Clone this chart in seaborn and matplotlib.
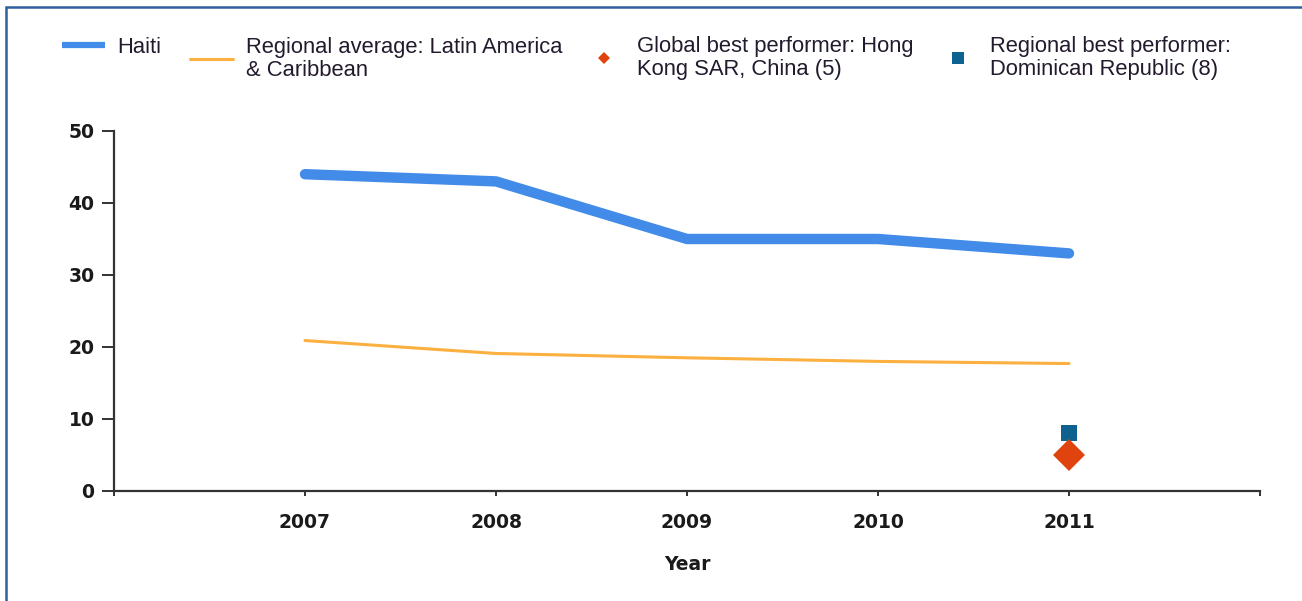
import matplotlib
matplotlib.use("Agg")
import matplotlib.pyplot as plt
import seaborn as sns
import pandas as pd
from matplotlib.patches import Rectangle

# ---- data ----
years = [2007, 2008, 2009, 2010, 2011]
haiti = [44, 43, 35, 35, 33]
regional_avg = [20.9, 19.1, 18.5, 18.0, 17.7]
best_year = [2011]
global_best = [5]
regional_best = [8]

series_labels = [
    "Haiti",
    "Regional average: Latin America\n& Caribbean",
    "Global best performer: Hong\nKong SAR, China (5)",
    "Regional best performer:\nDominican Republic (8)",
]
x_ticks = [2006, 2007, 2008, 2009, 2010, 2011, 2012]
x_ticklabels = ["", "2007", "2008", "2009", "2010", "2011", ""]
y_ticks = [0, 10, 20, 30, 40, 50]

# ---- colours ----
c_haiti = "#428be8"
c_region = "#fbb03f"
c_global = "#e0440e"
c_rbest = "#0d6290"
c_axis = "#333333"
c_text = "#231a2e"

sns.set_theme(style="white")
plt.rcParams["font.family"] = ["DejaVu Sans"]

W, H = 1302, 601
fig = plt.figure(figsize=(W / 100, H / 100), dpi=100)
ax = fig.add_axes([114 / W, 1 - 491 / H, (1260 - 114) / W, (491 - 131) / H])

df = pd.DataFrame({"year": years, "haiti": haiti, "regional": regional_avg})
sns.lineplot(data=df, x="year", y="regional", ax=ax, color=c_region,
             linewidth=2.2, label=series_labels[1])
sns.lineplot(data=df, x="year", y="haiti", ax=ax, color=c_haiti,
             linewidth=7.5, solid_capstyle="round", label=series_labels[0])
sns.lineplot(x=best_year, y=regional_best, ax=ax, color=c_rbest, marker="s",
             markersize=12, linestyle="", markeredgewidth=0, label=series_labels[3])
sns.lineplot(x=best_year, y=global_best, ax=ax, color=c_global, marker="D",
             markersize=16, linestyle="", markeredgewidth=0, label=series_labels[2])
ax.get_legend().remove()

ax.set_xlim(2006, 2012)
ax.set_ylim(0, 50)
ax.set_xticks(x_ticks)
ax.set_xticklabels(x_ticklabels)
ax.set_yticks(y_ticks)
ax.set_ylabel("")
ax.set_xlabel("Year", fontsize=13.5, fontweight="bold", color="#1a1a1a", labelpad=17)

for side in ["top", "right"]:
    ax.spines[side].set_visible(False)
for side in ["left", "bottom"]:
    ax.spines[side].set_color(c_axis)
    ax.spines[side].set_linewidth(1.6)
ax.spines["left"].set_zorder(0.5)
ax.spines["bottom"].set_zorder(0.5)

ax.tick_params(axis="y", direction="out", length=9, width=1.4, color=c_axis,
               pad=5, labelsize=13.5, labelcolor="#1a1a1a", left=True)
ax.tick_params(axis="x", direction="out", length=3.5, width=1.4, color=c_axis,
               pad=12, labelsize=13.5, labelcolor="#1a1a1a", bottom=True)
for t in ax.get_xticklabels() + ax.get_yticklabels():
    t.set_fontweight("bold")

# ---- legend: one entry per block across the top ----
handles, lbls = ax.get_legend_handles_labels()
hmap = dict(zip(lbls, handles))

def add_entry(label, x_px, y_px, handlelength, textpad, markerscale=1.0, handle_lw=None):
    leg = fig.legend([hmap[label]], [label], loc="upper left",
                     bbox_to_anchor=(x_px / W, 1 - y_px / H),
                     bbox_transform=fig.transFigure, frameon=False,
                     borderpad=0, borderaxespad=0, handlelength=handlelength,
                     handletextpad=textpad, markerscale=markerscale,
                     prop={"family": ["Liberation Sans", "DejaVu Sans"], "size": 15.8})
    for t in leg.get_texts():
        t.set_color(c_text)
        t.set_linespacing(1.1)
    if handle_lw is not None:
        for ln in leg.get_lines():
            ln.set_linewidth(handle_lw)
            ln.set_solid_capstyle("butt")
    return leg

add_entry(series_labels[0], 62, 37, 1.95, 0.55, handle_lw=4.5)
add_entry(series_labels[1], 190, 37, 1.95, 0.58)
add_entry(series_labels[2], 594, 36, 0.95, 1.02, markerscale=0.4)
add_entry(series_labels[3], 948, 36, 0.95, 0.98, markerscale=0.75)

# ---- panel frame ----
fig.add_artist(Rectangle((6 / W, -0.1), 1.2, 1.1 - 7 / H, transform=fig.transFigure,
                         fill=False, edgecolor="#2f5f9e", linewidth=1.8))

fig.savefig("out.png", dpi=100)
